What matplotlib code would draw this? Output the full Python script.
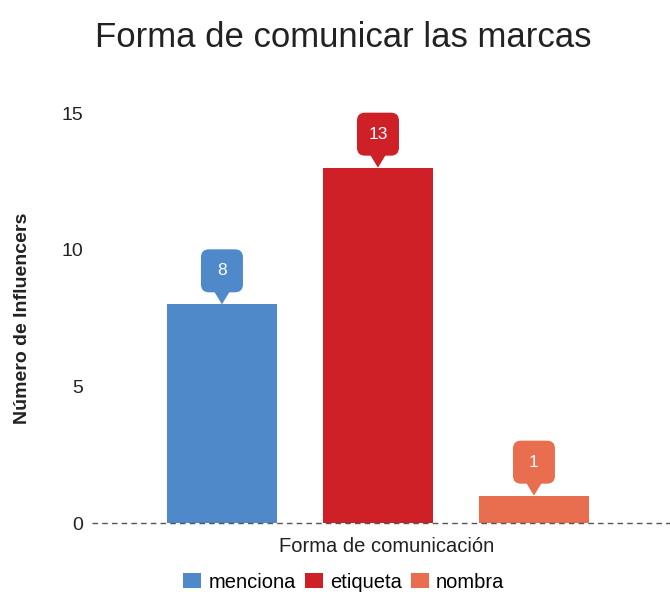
import matplotlib
matplotlib.use("Agg")
import matplotlib.pyplot as plt
from matplotlib import transforms
from matplotlib.patches import FancyBboxPatch, Polygon, Patch

plt.rcParams['font.family'] = ['Liberation Sans', 'DejaVu Sans']

categories = ["menciona", "etiqueta", "nombra"]
values = [8, 13, 1]
colors = ["#5089C9", "#CF1F27", "#E86E4F"]
title = "Forma de comunicar las marcas"
xlabel = "Forma de comunicación"
ylabel = "Número de Influencers"
yticks = [0, 5, 10, 15]

fig = plt.figure(figsize=(6.7, 5.92), dpi=100)
ax = fig.add_axes([92/670, 69/592, 578/670, 410/592])

xs = list(range(len(categories)))
bars = ax.bar(xs, values, width=0.705, color=colors, zorder=2)
ax.set_xlim(-0.833, 2.872)
ax.set_ylim(0, 15)
ax.set_yticks(yticks)
ax.set_xticks([])
ax.tick_params(axis='y', length=0, pad=6.5, labelsize=14, labelcolor='#222222')
for s in ax.spines.values():
    s.set_visible(False)
ax.axhline(0, color='#555555', lw=1, ls=(0, (4, 3)), clip_on=False, zorder=3)

ax.set_xlabel(xlabel, fontsize=14.5, labelpad=10, color='#222222', x=0.509)
ax.set_ylabel(ylabel, fontsize=14, fontweight='bold', labelpad=22, color='#222222')
fig.text(0.513, 0.937, title, ha='center', va='center', fontsize=25, color='#222222')

# callout labels
for x, v, c in zip(xs, values, colors):
    tr = fig.dpi_scale_trans + transforms.ScaledTranslation(x, v, ax.transData)
    box = FancyBboxPatch((-0.21, 0.12), 0.42, 0.43,
                         boxstyle="round,pad=0,rounding_size=0.08",
                         transform=tr, fc=c, ec='none', clip_on=False, zorder=4)
    tri = Polygon([(-0.085, 0.14), (0.085, 0.14), (0, 0.0)], closed=True,
                  transform=tr, fc=c, ec='none', clip_on=False, zorder=4)
    ax.add_patch(box)
    ax.add_patch(tri)
    ax.annotate(str(v), xy=(x, v), xytext=(0, 0.335*72), textcoords='offset points',
                ha='center', va='center', color='white', fontsize=12.5, zorder=5)

handles = [Patch(facecolor=c, edgecolor='none') for c in colors]
fig.legend(handles, categories, loc='center', bbox_to_anchor=(0.513, 10/592),
           ncol=3, frameon=False, fontsize=14.5, handlelength=0.9, handleheight=0.8,
           handletextpad=0.35, columnspacing=0.45, borderpad=0, borderaxespad=0)

fig.savefig("out.png", dpi=100)
